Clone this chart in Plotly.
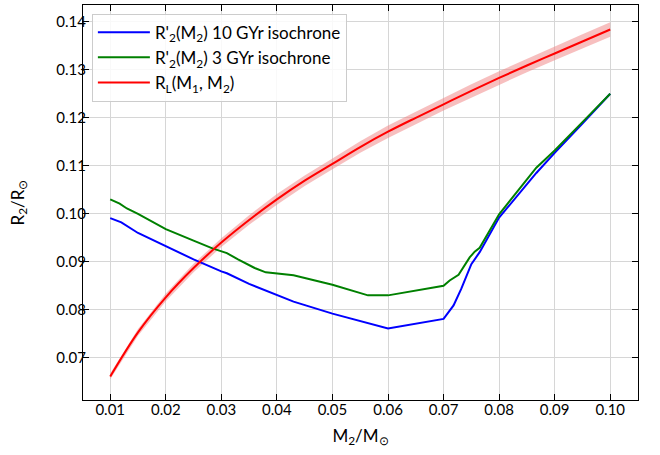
import plotly.graph_objects as go

# ---- data ----
red_x = [0.010, 0.015, 0.020, 0.025, 0.030, 0.035, 0.040, 0.045, 0.050, 0.055,
         0.060, 0.065, 0.070, 0.075, 0.080, 0.085, 0.090, 0.095, 0.100]
red_y = [0.0661, 0.0753, 0.0826, 0.0887, 0.0940, 0.0987, 0.1030, 0.1069, 0.1104, 0.1139,
         0.1171, 0.1200, 0.1228, 0.1256, 0.1283, 0.1309, 0.1334, 0.1359, 0.1384]
red_lo = [0.0655, 0.0746, 0.0818, 0.0878, 0.0931, 0.0977, 0.1019, 0.1058, 0.1093, 0.1127,
          0.1158, 0.1187, 0.1215, 0.1242, 0.1269, 0.1295, 0.1320, 0.1344, 0.1369]
red_hi = [0.0667, 0.0760, 0.0834, 0.0896, 0.0949, 0.0997, 0.1041, 0.1080, 0.1115, 0.1151,
          0.1184, 0.1213, 0.1241, 0.1270, 0.1297, 0.1323, 0.1348, 0.1374, 0.1399]

blue_x = [0.010, 0.012, 0.015, 0.017, 0.020, 0.025, 0.030, 0.031, 0.035, 0.040, 0.043,
          0.050, 0.060, 0.070, 0.0718, 0.0732, 0.075, 0.0765, 0.078, 0.080, 0.0867,
          0.090, 0.095, 0.100]
blue_y = [0.0991, 0.0982, 0.0960, 0.0949, 0.0933, 0.0905, 0.0880, 0.0876, 0.0854, 0.0830, 0.0817,
          0.0792, 0.0761, 0.0781, 0.0809, 0.0844, 0.0895, 0.0920, 0.0950, 0.0992, 0.1085,
          0.1127, 0.1188, 0.1250]

green_x = [0.010, 0.0117, 0.013, 0.015, 0.020, 0.0228, 0.025, 0.0284, 0.031, 0.033, 0.036,
           0.038, 0.040, 0.043, 0.050, 0.0564, 0.060, 0.070, 0.0711, 0.0727, 0.0747,
           0.0756, 0.0765, 0.080, 0.0867, 0.090, 0.095, 0.100]
green_y = [0.1030, 0.1021, 0.1011, 0.1000, 0.0968, 0.0954, 0.0944, 0.0928, 0.0918, 0.0905, 0.0887,
           0.0878, 0.0875, 0.0872, 0.0852, 0.0830, 0.0830, 0.0850, 0.0861, 0.0873, 0.0909,
           0.0921, 0.0929, 0.0999, 0.1096, 0.1132, 0.1191, 0.1250]

x_ticks = [0.01, 0.02, 0.03, 0.04, 0.05, 0.06, 0.07, 0.08, 0.09, 0.10]
x_ticklabels = ["0.01", "0.02", "0.03", "0.04", "0.05", "0.06", "0.07", "0.08", "0.09", "0.10"]
y_ticks = [0.07, 0.08, 0.09, 0.10, 0.11, 0.12, 0.13, 0.14]
y_ticklabels = ["0.07", "0.08", "0.09", "0.10", "0.11", "0.12", "0.13", "0.14"]

FONT = "Lato"

fig = go.Figure()
fig.add_trace(go.Scatter(x=red_x, y=red_lo, mode="lines", line=dict(width=0, color="rgba(0,0,0,0)"),
                         showlegend=False, hoverinfo="skip"))
fig.add_trace(go.Scatter(x=red_x, y=red_hi, mode="lines", line=dict(width=0, color="rgba(0,0,0,0)"),
                         fill="tonexty", fillcolor="rgba(240,128,128,0.5)",
                         showlegend=False, hoverinfo="skip"))
fig.add_trace(go.Scatter(x=blue_x, y=blue_y, mode="lines", line=dict(color="#0000ff", width=2),
                         name="R'<sub>2</sub>(M<sub>2</sub>) 10 GYr isochrone"))
fig.add_trace(go.Scatter(x=green_x, y=green_y, mode="lines", line=dict(color="#008000", width=2),
                         name="R'<sub>2</sub>(M<sub>2</sub>) 3 GYr isochrone"))
fig.add_trace(go.Scatter(x=red_x, y=red_y, mode="lines", line=dict(color="#ff0000", width=2, shape="spline"),
                         name="R<sub>L</sub>(M<sub>1</sub>, M<sub>2</sub>)"))

axis_common = dict(
    showline=True, linecolor="black", linewidth=1.3, mirror="ticks",
    ticks="inside", ticklen=6, tickwidth=1.2, tickcolor="black",
    showgrid=True, gridcolor="#d6d6d6", gridwidth=1, zeroline=False,
    tickfont=dict(family=FONT, size=15, color="black"),
)

fig.update_xaxes(range=[0.0051, 0.1050], tickvals=x_ticks, ticktext=x_ticklabels,
                 ticklabelstandoff=-4,
                 title=dict(text="M<sub>2</sub>/M<sub>⊙</sub>", font=dict(family=FONT, size=17, color="black"),
                            standoff=12),
                 **axis_common)
fig.update_yaxes(range=[0.0612, 0.1435], tickvals=y_ticks, ticktext=y_ticklabels,
                 ticklabelstandoff=-7,
                 title=dict(text="R<sub>2</sub>/R<sub>⊙</sub>", font=dict(family=FONT, size=17, color="black"),
                            standoff=27),
                 **axis_common)

fig.update_layout(
    width=660, height=455,
    margin=dict(l=83, r=22, t=5, b=55, autoexpand=False),
    paper_bgcolor="white", plot_bgcolor="white",
    font=dict(family=FONT, color="black"),
    legend=dict(x=0.016, y=0.978, xanchor="left", yanchor="top", traceorder="normal",
                itemwidth=52,
                bgcolor="rgba(255,255,255,0.85)", bordercolor="#cccccc", borderwidth=1,
                font=dict(family=FONT, size=17, color="black"), tracegroupgap=0),
    showlegend=True,
)

fig.write_html("out.html", config={"displayModeBar": False},
               post_script="document.body.style.margin='0';document.body.style.padding='0';")
